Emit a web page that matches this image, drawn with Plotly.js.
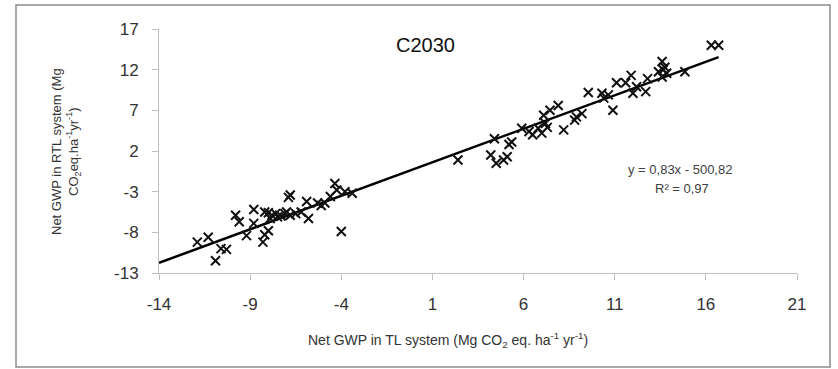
<!DOCTYPE html>
<html>
<head>
<meta charset="utf-8">
<script src="https://cdn.plot.ly/plotly-3.0.1.min.js"></script>
<style>
html,body{margin:0;padding:0;background:#fff;}
#chart{width:838px;height:369px;}
</style>
</head>
<body>
<div id="chart"></div>
<script>
// Net GWP in TL system (x) vs Net GWP in RTL system (y), Mg CO2 eq ha-1 yr-1
const xTL = [
  -11.9, -11.3, -10.9, -10.6, -10.3, -9.8, -9.6, -9.2, -8.8, -8.8,
  -8.3, -8.2, -8.0, -8.0, -8.2, -7.8, -7.9, -7.5, -7.6, -7.1,
  -6.8, -6.9, -6.5, -6.2, -6.8, -5.9, -5.8, -5.3, -4.9, -4.6,
  -4.35, -4.25, -3.8, -3.4, -4.0, -5.1, -7.3, -7.0,
  2.4, 4.2, 4.5, 5.1, 4.9, 4.4, 5.35, 5.2, 5.9, 6.3,
  6.5, 6.8, 7.1, 7.45, 7.9, 7.2, 7.0, 7.3, 8.2, 8.9,
  9.2, 8.8, 9.55, 10.3, 10.4, 10.65, 10.9, 11.1, 11.6, 11.9,
  12.0, 12.2, 12.7, 12.8, 13.6, 13.4, 13.66, 13.85, 13.6, 13.75,
  14.85, 16.3, 16.7
];
const yRTL = [
  -9.2, -8.6, -11.5, -10.0, -10.1, -5.9, -6.7, -8.4, -5.2, -6.9,
  -9.2, -8.3, -7.8, -5.6, -5.5, -5.9, -6.3, -6.1, -5.7, -5.7,
  -3.4, -3.7, -5.7, -5.5, -5.9, -4.2, -6.3, -4.4, -4.4, -3.6,
  -2.0, -2.8, -3.0, -3.2, -7.9, -4.7, -6.0, -5.5,
  0.9, 1.5, 0.5, 1.3, 0.9, 3.5, 3.1, 2.8, 4.8, 4.4,
  4.0, 4.8, 6.4, 7.0, 7.6, 5.4, 4.2, 4.9, 4.6, 6.2,
  6.6, 5.8, 9.2, 9.1, 8.5, 8.9, 7.0, 10.4, 10.4, 11.3,
  9.1, 9.9, 9.3, 10.9, 13.0, 11.75, 12.0, 11.55, 11.1, 12.3,
  11.75, 15.0, 15.0
];
const xTicks = [-14, -9, -4, 1, 6, 11, 16, 21];
const yTicks = [-13, -8, -3, 2, 7, 12, 17];
const chartTitle = "C2030";
const eqText = "y = 0,83x - 500,82";
const r2Text = "R² = 0,97";
const xTitle = 'Net GWP in TL system (Mg CO<sub>2</sub> eq. ha<sup>-1</sup> yr<sup>-1</sup>)';
const yTitle = 'Net GWP in RTL system (Mg<br>CO<sub>2</sub>eq.ha<sup>-1</sup>yr<sup>-1</sup>)';

// least-squares trendline from the data
const n = xTL.length;
const mx = xTL.reduce((a, b) => a + b, 0) / n;
const my = yRTL.reduce((a, b) => a + b, 0) / n;
let sxy = 0, sxx = 0;
for (let i = 0; i < n; i++) { sxy += (xTL[i] - mx) * (yRTL[i] - my); sxx += (xTL[i] - mx) ** 2; }
const slope = sxy / sxx, icpt = my - slope * mx;
const lineX = [xTicks[0], Math.max(...xTL)];
const lineY = lineX.map(v => slope * v + icpt);

// plot area in pixels
const L = 159, R = 797, T = 29, B = 273, W = 838, H = 369;
const px = v => (v - L) / (R - L);
const py = v => (B - v) / (B - T);

const traces = [
  { x: lineX, y: lineY, mode: 'lines', line: { color: '#000', width: 2.5 }, hoverinfo: 'skip', showlegend: false },
  { x: xTL, y: yRTL, mode: 'markers', showlegend: false,
    marker: { symbol: 'x-thin-open', size: 9, color: '#111', line: { color: '#111', width: 2 } } }
];

const axisCommon = {
  showgrid: false, zeroline: false, showline: true, linecolor: '#bfbfbf', linewidth: 1,
  ticks: 'outside', ticklen: 6, tickcolor: '#bfbfbf', tickwidth: 1,
  tickfont: { family: 'Liberation Sans, Arial, sans-serif', size: 17, color: '#333' },
  ticklabelstandoff: 10
};
const smallFont = { family: 'Liberation Sans, Arial, sans-serif', size: 13, color: '#333' };

const layout = {
  width: W, height: H,
  margin: { l: L, r: W - R, t: T, b: H - B, pad: 0 },
  paper_bgcolor: '#fff', plot_bgcolor: '#fff',
  xaxis: Object.assign({}, axisCommon, {
    range: [xTicks[0], xTicks[xTicks.length - 1]], tickvals: xTicks, ticktext: xTicks.map(String)
  }),
  yaxis: Object.assign({}, axisCommon, {
    range: [yTicks[0], yTicks[yTicks.length - 1]], tickvals: yTicks, ticktext: yTicks.map(String)
  }),
  annotations: [
    { text: chartTitle, xref: 'paper', yref: 'paper', x: px(425), y: py(45), xanchor: 'center', yanchor: 'middle', showarrow: false,
      font: { family: 'Liberation Sans, Arial, sans-serif', size: 20, color: '#111' } },
    { text: eqText, xref: 'paper', yref: 'paper', x: px(680), y: py(170), xanchor: 'center', yanchor: 'middle', showarrow: false,
      font: { family: 'Liberation Sans, Arial, sans-serif', size: 13, color: '#404040' } },
    { text: r2Text, xref: 'paper', yref: 'paper', x: px(682), y: py(188), xanchor: 'center', yanchor: 'middle', showarrow: false,
      font: { family: 'Liberation Sans, Arial, sans-serif', size: 13, color: '#404040' } },
    { text: xTitle, xref: 'paper', yref: 'paper', x: px(448), y: py(340), xanchor: 'center', yanchor: 'middle', showarrow: false,
      font: Object.assign({}, smallFont, { size: 14 }) },
    { text: yTitle, xref: 'paper', yref: 'paper', x: px(66), y: py(151), xanchor: 'center', yanchor: 'middle', showarrow: false,
      textangle: -90, font: smallFont }
  ],
  shapes: [
    { type: 'rect', xref: 'paper', yref: 'paper', x0: px(16), x1: px(830), y0: py(367), y1: py(5),
      line: { color: '#8c8c8c', width: 1.5 }, fillcolor: 'rgba(0,0,0,0)', layer: 'below' }
  ]
};

Plotly.newPlot('chart', traces, layout, { staticPlot: true, displayModeBar: false });
</script>
</body>
</html>
